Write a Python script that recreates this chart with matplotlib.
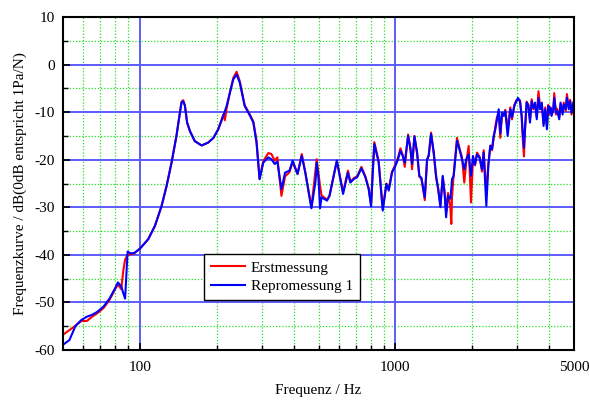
import matplotlib
matplotlib.use("Agg")
import matplotlib.pyplot as plt
from matplotlib.ticker import FixedLocator, NullFormatter

plt.rcParams['font.family'] = ['Liberation Serif', 'DejaVu Serif']

freq_hz = [
    50, 53, 56, 59, 62, 65, 68, 72, 76, 80, 82, 84.5, 86, 87.5, 89.5, 92, 95, 100,
    107.8, 114.5, 121.6, 127.2, 133, 139, 143.4, 145.5, 147.7, 150, 153, 157, 164, 174.4,
    185, 194, 202.6, 212, 215, 218.5, 225, 232, 239, 246, 257, 270, 278, 286, 294,
    304, 318, 327, 337, 345, 358, 370, 385, 396, 405, 414, 430, 444, 469, 487, 492, 500,
    507, 514, 540, 552, 590, 624, 652, 666, 690,
    708, 736, 763, 786, 803, 815, 827, 860, 892, 922, 942, 970,
    1000, 1024, 1046, 1068, 1088, 1121, 1145, 1162, 1187, 1216, 1241, 1264, 1303, 1330,
    1350, 1379, 1413, 1443, 1470, 1500, 1532, 1560, 1579, 1607, 1641, 1655,
    1665, 1691, 1742, 1795, 1822, 1860, 1894, 1935, 1976, 2012,
    2049, 2086, 2136, 2182, 2215, 2269, 2310, 2352, 2388, 2425,
    2461, 2498, 2537, 2574, 2613, 2652, 2692, 2750, 2817, 2860,
    2920, 2974, 3018,
    3073, 3120, 3149, 3185, 3214, 3263, 3312, 3363, 3415, 3467,
    3520, 3575, 3630, 3685, 3742, 3800, 3858, 3918, 3966, 4000,
    4048, 4085, 4148, 4185, 4249, 4300, 4378, 4430, 4512, 4560,
    4640, 4690, 4770, 4830, 4890, 4966,
]

erstmessung_db = [
    -56.8, -55.8, -54.9, -53.9, -53.9, -53.0, -52.3, -51.2, -49.5, -47.2, -46.2, -47.2, -43.5, -41.0, -40.0, -39.9, -39.7, -38.7,
    -36.7, -33.9, -29.7, -25.5, -20.6, -15.0, -10.0, -7.8, -7.5, -8.5, -12.2, -14.0, -16.1, -17.0,
    -16.4, -15.4, -13.6, -10.5, -11.7, -9.2, -5.9, -2.8, -1.5, -3.5, -8.5, -10.6, -12.0, -16.0, -24.0,
    -20.3, -18.6, -18.8, -20.2, -19.5, -27.6, -23.5, -22.6, -20.5, -21.8, -23.0, -18.8, -22.7, -30.0, -22.0, -19.9, -23.0,
    -25.5, -27.5, -28.4, -27.6, -20.2, -26.8, -22.3, -24.6, -23.8,
    -23.5, -21.5, -23.5, -26.0, -29.5, -22.0, -16.3, -20.3, -30.3, -25.0, -26.0, -22.5,
    -21.0, -19.5, -17.6, -19.0, -21.5, -14.7, -17.5, -22.0, -15.0, -18.8, -23.6, -24.0, -28.5, -20.2,
    -19.0, -14.3, -18.8, -23.8, -26.0, -29.5, -23.6, -27.0, -31.0, -27.0, -30.0, -33.5,
    -28.0, -23.0, -15.4, -18.3, -19.5, -24.8, -20.5, -17.1, -29.0, -20.0,
    -21.2, -18.5, -19.4, -22.5, -18.0, -27.0, -21.0, -17.0, -18.0, -15.5,
    -13.0, -11.0, -10.5, -15.4, -10.5, -10.5, -9.5, -13.5, -9.0, -11.5,
    -8.5, -7.5, -7.5,
    -7.5, -11.0, -15.5, -19.3, -14.0, -7.8, -8.4, -11.5, -7.3, -9.4,
    -8.3, -11.0, -5.6, -9.0, -8.5, -12.3, -9.0, -13.0, -8.5, -10.5,
    -9.0, -10.3, -9.6, -6.0, -10.5, -9.3, -11.0, -8.3, -10.0, -8.0,
    -9.8, -6.2, -9.0, -7.4, -10.5, -8.5,
]

repromessung_db = [
    -58.9, -57.9, -54.9, -53.7, -53.0, -52.6, -52.0, -50.9, -49.2, -47.0, -45.8, -46.6, -48.0, -49.2, -39.3, -39.7, -39.6, -38.7,
    -36.7, -33.9, -29.7, -25.5, -20.6, -15.0, -10.1, -8.0, -7.7, -8.7, -12.2, -14.0, -16.1, -17.0,
    -16.4, -15.4, -13.6, -10.8, -9.8, -8.7, -5.9, -3.1, -2.1, -3.8, -8.7, -10.8, -12.2, -16.4, -24.1,
    -20.6, -19.5, -19.9, -20.9, -20.4, -26.2, -22.7, -22.3, -20.2, -21.6, -23.0, -19.2, -22.7, -30.2, -24.5, -20.6, -24.0,
    -30.2, -27.9, -28.6, -27.6, -20.2, -27.2, -22.7, -24.8, -24.0,
    -23.7, -21.8, -23.7, -26.2, -29.8, -23.0, -16.7, -20.6, -30.7, -25.1, -26.5, -22.7,
    -21.3, -19.9, -18.1, -19.2, -20.6, -15.0, -17.8, -20.9, -15.1, -18.5, -23.4, -23.8, -27.9, -19.9,
    -19.2, -14.6, -18.5, -23.4, -26.2, -30.0, -23.4, -27.6, -32.1, -27.6, -28.2, -26.0,
    -24.1, -23.4, -16.0, -18.5, -19.9, -22.0, -19.9, -18.9, -23.4, -19.2,
    -21.0, -18.9, -19.6, -22.0, -18.5, -29.7, -21.3, -17.1, -17.8, -15.0,
    -13.6, -11.5, -9.4, -14.5, -10.1, -10.8, -9.8, -15.0, -9.4, -11.1,
    -8.7, -7.7, -7.0,
    -7.7, -10.8, -14.0, -17.5, -13.6, -8.0, -8.6, -12.2, -7.7, -9.1,
    -8.0, -11.5, -7.0, -9.4, -8.0, -12.9, -9.4, -13.6, -8.7, -10.1,
    -9.1, -10.8, -9.4, -7.0, -10.1, -9.8, -11.5, -8.0, -10.5, -8.4,
    -9.4, -7.0, -9.4, -7.7, -10.1, -8.0,
]

series_labels = ["Erstmessung", "Repromessung 1"]
x_major_ticks = [100, 1000, 5000]
x_minor_ticks = [60, 70, 80, 90, 200, 300, 400, 500, 600, 700, 800, 900, 2000, 3000, 4000]
y_ticks = [-60, -50, -40, -30, -20, -10, 0, 10]
y_minor_ticks = [-55, -45, -35, -25, -15, -5, 5]

fig = plt.figure(figsize=(5.9, 4.01), dpi=100)
ax = fig.add_axes([63/590, 1-350/401, 511/590, 333/401])
ax.set_xscale('log')
ax.set_xlim(50, 5000)
ax.set_ylim(-60, 10)

# grid
for xv in x_minor_ticks:
    ax.axvline(xv, color='#22e022', lw=0.9, ls=(0, (1, 1.5)), zorder=1)
for yv in y_minor_ticks:
    ax.axhline(yv, color='#22e022', lw=0.9, ls=(0, (1, 1.5)), zorder=1)
for xv in [100, 1000]:
    ax.axvline(xv, color='#5c5cff', lw=1.4, zorder=1.5)
for yv in y_ticks[1:-1]:
    ax.axhline(yv, color='#5c5cff', lw=1.4, zorder=1.5)

ax.plot(freq_hz, erstmessung_db, color='#ff0000', lw=1.5, label=series_labels[0], zorder=3)
ax.plot(freq_hz, repromessung_db, color='#0000ff', lw=1.5, label=series_labels[1], zorder=4)

ax.xaxis.set_major_locator(FixedLocator(x_major_ticks))
ax.set_xticklabels([str(v) for v in x_major_ticks])
ax.xaxis.set_minor_locator(FixedLocator(x_minor_ticks))
ax.xaxis.set_minor_formatter(NullFormatter())
ax.set_yticks(y_ticks)
ax.set_yticklabels([str(v) for v in y_ticks])
ax.yaxis.set_minor_locator(FixedLocator(y_minor_ticks))

ax.tick_params(which='both', direction='in', labelsize=11, colors='black')
ax.tick_params(which='major', length=5, width=1.2)
ax.tick_params(which='minor', length=3.5, width=1.0)
ax.tick_params(axis='x', pad=8)
ax.tick_params(axis='y', pad=6)

for s in ax.spines.values():
    s.set_linewidth(1.5)
    s.set_color('black')
    s.set_zorder(5)

ax.set_xlabel('Frequenz / Hz', fontsize=11, labelpad=7)
ax.set_ylabel('Frequenzkurve / dB(0dB entspricht 1Pa/N)', fontsize=11, labelpad=5)

leg = ax.legend(loc='upper left', bbox_to_anchor=(0.276, 0.288), borderaxespad=0,
                fancybox=False, edgecolor='black', framealpha=1, fontsize=11,
                handlelength=2.2, handletextpad=0.4, borderpad=0.45, labelspacing=0.3)
leg.get_frame().set_linewidth(1.0)
leg.set_zorder(6)

fig.savefig('out.png', dpi=100)
